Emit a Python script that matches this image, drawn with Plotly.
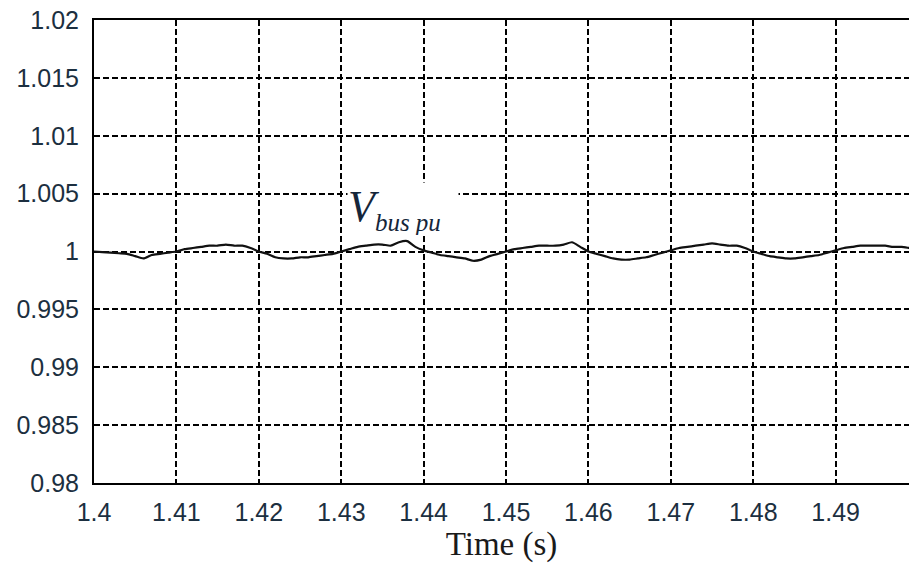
import plotly.graph_objects as go

# Bus voltage (per unit) sampled every 1 ms between 1.40 s and 1.50 s,
# stored as deviation from 1.0 pu in units of 1e-4 pu.
time_s = [round(1.4 + 0.001 * i, 3) for i in range(101)]
dev_1e4 = [
    0, -0.5, -1, -1.5, -2, -4, -6, -3, -2, -1,
    0, 2, 3, 4, 5, 5, 6, 5, 5, 3,
    0, -2, -5, -6, -6, -5, -5, -4, -3, -2,
    0, 2, 4, 5, 6, 6, 5, 8, 9, 4,
    1, -1, -3, -4, -5, -6, -8, -7, -4, -2,
    0, 2, 3, 4, 5, 5, 5, 6, 8, 4,
    0, -2, -4, -6, -7, -7, -6, -5, -3, -1,
    1, 3, 4, 5, 6, 7, 6, 5, 5, 3,
    0, -2, -4, -5, -6, -6, -5, -4, -3, -1,
    1, 3, 4, 5, 5, 5, 5, 4, 4, 3,
    2,
]
v_bus_pu = [1.0 + d * 1e-4 for d in dev_1e4]

x_ticks = [1.4, 1.41, 1.42, 1.43, 1.44, 1.45, 1.46, 1.47, 1.48, 1.49]
x_tick_text = ["1.4", "1.41", "1.42", "1.43", "1.44", "1.45", "1.46", "1.47", "1.48", "1.49"]
y_ticks = [0.98, 0.985, 0.99, 0.995, 1.0, 1.005, 1.01, 1.015, 1.02]
y_tick_text = ["0.98", "0.985", "0.99", "0.995", "1", "1.005", "1.01", "1.015", "1.02"]

serif = "Liberation Serif, Times New Roman, serif"
sans = "Liberation Sans, Arial, sans-serif"

fig = go.Figure()
fig.add_trace(go.Scatter(
    x=time_s, y=v_bus_pu, mode="lines",
    line=dict(color="#111111", width=2.2, shape="spline", smoothing=0.6),
    showlegend=False,
))

# Curve label on a white patch that masks the grid behind it
fig.add_annotation(
    x=1.43755, y=1.0035, xref="x", yref="y",
    text="<i>V</i><sub><span style='font-size:25px'><i>bus pu</i></span></sub>",
    showarrow=False, bgcolor="white", width=110, height=52,
    align="left", valign="middle", borderpad=0, yshift=2,
    font=dict(family=serif, size=44, color="#15263a"),
)

axis_font = dict(family=sans, size=25, color="#1c2f40")

fig.update_layout(
    width=909, height=566,
    margin=dict(l=94, r=0, t=20, b=83),
    paper_bgcolor="white", plot_bgcolor="white",
    xaxis=dict(
        range=[1.4, 1.4989], tickvals=x_ticks, ticktext=x_tick_text,
        showgrid=True, gridcolor="black", gridwidth=1.5, griddash="6px,3px",
        showline=True, linecolor="black", linewidth=2, mirror=True,
        ticks="", tickfont=axis_font, zeroline=False, automargin=False,
        ticklabelstandoff=6,
        title=dict(text="Time (s)", standoff=4,
                   font=dict(family=serif, size=33, color="#1a1a1a")),
    ),
    yaxis=dict(
        range=[0.98, 1.02], tickvals=y_ticks, ticktext=y_tick_text,
        showgrid=True, gridcolor="black", gridwidth=1.5, griddash="6px,3px",
        showline=True, linecolor="black", linewidth=2, mirror=False,
        ticks="", tickfont=axis_font, zeroline=False, automargin=False,
        ticklabelstandoff=8,
    ),
)

fig.write_html("out.html")
